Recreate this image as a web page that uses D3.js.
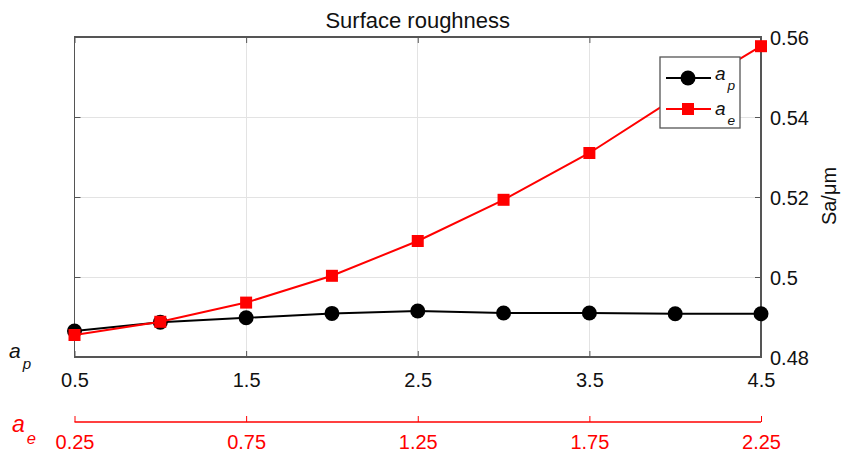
<html>
  <head>
    <title>Surface roughness</title>
    <script type="text/javascript" src="https://cdn.jsdelivr.net/npm/d3@7"></script>
    <style type="text/css">

body {
  margin: 0;
  background: #fff;
  font-family: Arial, "Liberation Sans", sans-serif;
}

.grid line {
  stroke: #e3e3e3;
  stroke-width: 1px;
  shape-rendering: crispEdges;
}

.frame {
  fill: none;
  stroke: #555;
  stroke-width: 1.3px;
  shape-rendering: crispEdges;
}

    </style>
  </head>
  <body>
    <script type="text/javascript">

// values
var apX = [0.5, 1, 1.5, 2, 2.5, 3, 3.5, 4, 4.5],
    aeX = [0.25, 0.5, 0.75, 1, 1.25, 1.5, 1.75, 2, 2.25],
    apSa = [0.4865, 0.4887, 0.4898, 0.4909, 0.4915, 0.4910, 0.4910, 0.4908, 0.4908],
    aeSa = [0.4855, 0.4888, 0.4936, 0.5003, 0.5090, 0.5193, 0.5310, 0.5448, 0.5577];

var apTicks = [0.5, 1.5, 2.5, 3.5, 4.5],
    aeTicks = [0.25, 0.75, 1.25, 1.75, 2.25],
    yTicks = [0.48, 0.5, 0.52, 0.54, 0.56];

var W = 843, H = 456,
    pl = 74.5, pr = 761, pt = 37, pb = 357;

var x = d3.scaleLinear().domain([0.5, 4.5]).range([pl, pr]),
    xe = d3.scaleLinear().domain([0.25, 2.25]).range([pl, pr]),
    y = d3.scaleLinear().domain([0.48, 0.56]).range([pb, pt]);

var svg = d3.select("body").append("svg")
    .attr("width", W)
    .attr("height", H);

// grid
var grid = svg.append("g").attr("class", "grid");
grid.selectAll("line.v")
    .data(apTicks.slice(1, -1))
  .enter().append("line")
    .attr("x1", function(d) { return x(d); })
    .attr("x2", function(d) { return x(d); })
    .attr("y1", pt)
    .attr("y2", pb);
grid.selectAll("line.h")
    .data(yTicks.slice(1, -1))
  .enter().append("line")
    .attr("y1", function(d) { return y(d); })
    .attr("y2", function(d) { return y(d); })
    .attr("x1", pl)
    .attr("x2", pr);

// bottom ap axis (ticks inward), top ticks too
var gx = svg.append("g")
    .attr("transform", "translate(0," + pb + ")")
    .call(d3.axisBottom(x).tickValues(apTicks).tickSize(-6).tickPadding(16)
      .tickFormat(function(d) { return d; }));
gx.select(".domain").remove();
gx.selectAll("line").attr("stroke", "#555");
gx.selectAll("text")
    .attr("font-size", 20)
    .attr("fill", "#111")
    .attr("dy", "0.71em");

var gxt = svg.append("g")
    .attr("transform", "translate(0," + pt + ")")
    .call(d3.axisTop(x).tickValues(apTicks).tickSize(-6).tickFormat(""));
gxt.select(".domain").remove();
gxt.selectAll("line").attr("stroke", "#555");

// right y axis
var gy = svg.append("g")
    .attr("transform", "translate(" + pr + ",0)")
    .call(d3.axisRight(y).tickValues(yTicks).tickSize(-6).tickPadding(9)
      .tickFormat(function(d) { return d; }));
gy.select(".domain").remove();
gy.selectAll("line").attr("stroke", "#555");
gy.selectAll("text")
    .attr("font-size", 20)
    .attr("fill", "#111")
    .attr("dy", "0.35em");

var gyl = svg.append("g")
    .attr("transform", "translate(" + pl + ",0)")
    .call(d3.axisLeft(y).tickValues(yTicks).tickSize(-6).tickFormat(""));
gyl.select(".domain").remove();
gyl.selectAll("line").attr("stroke", "#555");

svg.append("rect")
    .attr("class", "frame")
    .attr("x", pl)
    .attr("y", pt)
    .attr("width", pr - pl)
    .attr("height", pb - pt);

// second (red) ae axis below
var ge = svg.append("g")
    .attr("transform", "translate(0,422)")
    .call(d3.axisBottom(xe).tickValues(aeTicks).tickSize(-6).tickPadding(13)
      .tickFormat(function(d) { return d; }));
ge.select(".domain")
    .attr("d", "M" + pl + ",0H" + pr)
    .attr("stroke", "red")
    .attr("stroke-width", 1.3);
ge.selectAll("line").attr("stroke", "red");
ge.selectAll("text")
    .attr("font-size", 20)
    .attr("fill", "red")
    .attr("dy", "0.71em");

// axis captions
function sublabel(g, xp, yp, main, sub, color, size) {
  var t = g.append("text")
      .attr("x", xp)
      .attr("y", yp)
      .attr("fill", color)
      .attr("font-style", "italic")
      .attr("font-size", size);
  t.append("tspan").text(main);
  t.append("tspan")
      .attr("dx", 2)
      .attr("dy", size * 0.5)
      .attr("font-size", size * 0.72)
      .text(sub);
  return t;
}
sublabel(svg, 9, 358, "a", "p", "#111", 21);
sublabel(svg, 12, 432, "a", "e", "red", 23);

svg.append("text")
    .attr("transform", "translate(836,196) rotate(-90)")
    .attr("text-anchor", "middle")
    .attr("font-size", 20)
    .attr("fill", "#111")
    .text("Sa/\u03bcm");

svg.append("text")
    .attr("x", (pl + pr) / 2)
    .attr("y", 28)
    .attr("text-anchor", "middle")
    .attr("font-size", 22)
    .attr("fill", "#111")
    .text("Surface roughness");

// series
var apLine = d3.line()
    .x(function(d, i) { return x(apX[i]); })
    .y(function(d) { return y(d); });
var aeLine = d3.line()
    .x(function(d, i) { return xe(aeX[i]); })
    .y(function(d) { return y(d); });

svg.append("path")
    .datum(apSa)
    .attr("d", apLine)
    .attr("fill", "none")
    .attr("stroke", "black")
    .attr("stroke-width", 2);
svg.selectAll("circle.ap")
    .data(apSa)
  .enter().append("circle")
    .attr("class", "ap")
    .attr("cx", function(d, i) { return x(apX[i]); })
    .attr("cy", function(d) { return y(d); })
    .attr("r", 7.5)
    .attr("fill", "black");

svg.append("path")
    .datum(aeSa)
    .attr("d", aeLine)
    .attr("fill", "none")
    .attr("stroke", "red")
    .attr("stroke-width", 2);
svg.selectAll("rect.ae")
    .data(aeSa)
  .enter().append("rect")
    .attr("class", "ae")
    .attr("x", function(d, i) { return xe(aeX[i]) - 6; })
    .attr("y", function(d) { return y(d) - 6; })
    .attr("width", 12)
    .attr("height", 12)
    .attr("fill", "red");

// legend
var lg = svg.append("g").attr("transform", "translate(660,57)");
lg.append("rect")
    .attr("width", 80)
    .attr("height", 71)
    .attr("fill", "white")
    .attr("stroke", "#555")
    .attr("stroke-width", 1.3);
var e1 = lg.append("g").attr("transform", "translate(0,21)");
e1.append("line").attr("x1", 6).attr("x2", 51).attr("stroke", "black").attr("stroke-width", 2);
e1.append("circle").attr("cx", 28).attr("r", 7.5).attr("fill", "black");
sublabel(e1, 55, 2, "a", "p", "#111", 19);
var e2 = lg.append("g").attr("transform", "translate(0,52)");
e2.append("line").attr("x1", 6).attr("x2", 51).attr("stroke", "red").attr("stroke-width", 2);
e2.append("rect").attr("x", 22).attr("y", -6).attr("width", 12).attr("height", 12).attr("fill", "red");
sublabel(e2, 55, 6, "a", "e", "#111", 19);

    </script>
  </body>
</html>
